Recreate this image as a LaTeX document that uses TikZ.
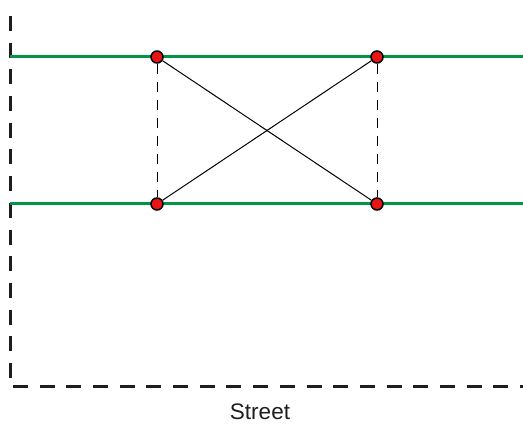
\documentclass[tikz,border=0pt]{standalone}
\usepackage{fontspec}
\setmainfont{Liberation Sans}
\definecolor{streetgreen}{RGB}{0,150,70}
\definecolor{dotred}{RGB}{235,20,20}
\begin{document}
\begin{tikzpicture}[x=1pt,y=1pt,
  border/.style={line width=3pt,draw={rgb,255:red,30;green,30;blue,30},dash pattern=on 15pt off 11.7pt},
  road/.style={line width=3pt,draw=streetgreen},
  link/.style={line width=1pt,draw=black},
  dlink/.style={line width=1pt,draw=black,dash pattern=on 10pt off 8pt},
  pt/.style={circle,fill=dotred,draw=black,line width=1.5pt,minimum size=12pt,inner sep=0pt}]
\useasboundingbox (0,0) rectangle (523,428);
\coordinate (btop) at (10,412);
\coordinate (bcorner) at (10,41);
\coordinate (bend) at (523,41);
\draw[border] (btop) -- (bcorner) -- (bend);
\coordinate (r1a) at (10,371);
\coordinate (r1b) at (523,371);
\coordinate (r2a) at (10,224);
\coordinate (r2b) at (523,224);
\draw[road] (r1a) -- (r1b);
\draw[road] (r2a) -- (r2b);
\node[pt] (a) at (157,371) {};
\node[pt] (b) at (377,371) {};
\node[pt] (c) at (157,224) {};
\node[pt] (d) at (377,224) {};
\draw[dlink] (a) -- (c);
\draw[dlink] (b) -- (d);
\draw[link] (a) -- (d);
\draw[link] (b) -- (c);
\node[font=\fontsize{22.5}{26}\selectfont,text={rgb,255:red,30;green,30;blue,30}] (street) at (260,16) {Street};
\end{tikzpicture}
\end{document}
